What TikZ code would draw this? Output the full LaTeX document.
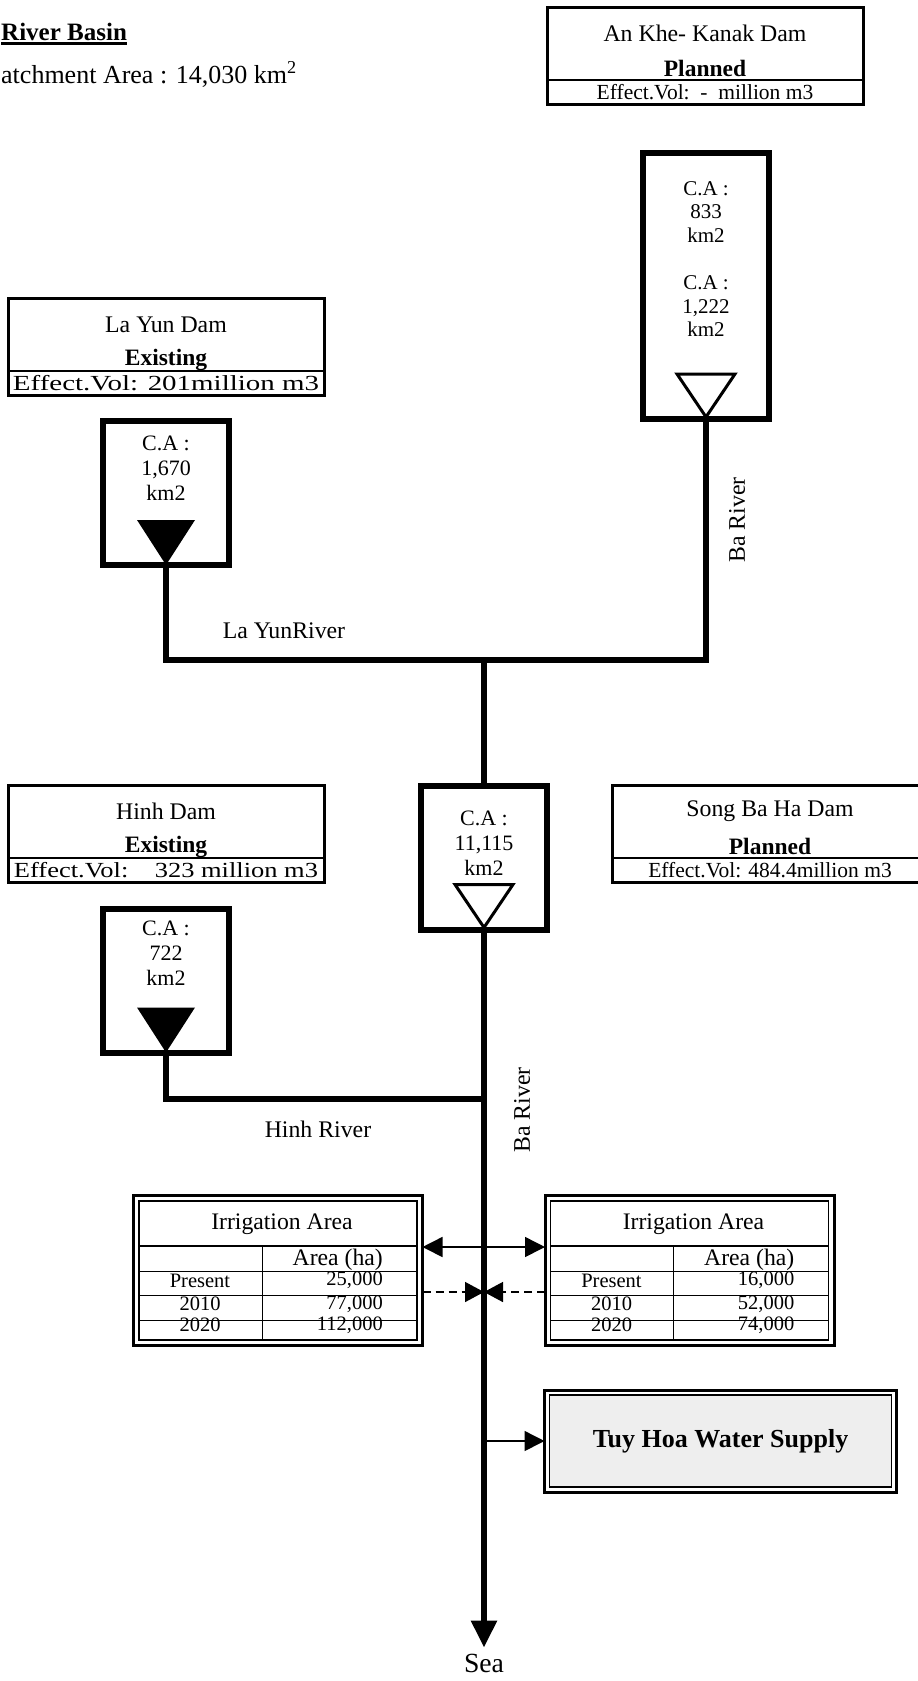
\documentclass[tikz,border=0pt]{standalone}
\usepackage{fontspec}
\setmainfont{Liberation Serif}
\usepackage{graphicx}
\usepackage{xcolor}
\usepackage{tikz}
\usetikzlibrary{arrows.meta,positioning,calc}

\definecolor{supplygray}{HTML}{EEEEEE}

\begin{document}
\begin{tikzpicture}[x=1pt, y=-1pt,
  dambox/.style={rectangle, draw, line width=3pt, minimum width=316pt, minimum height=97pt, outer sep=0pt, inner sep=0pt},
  damname/.style={font=\fontsize{23.8}{26}\selectfont, inner sep=0pt},
  damstat/.style={font=\fontsize{23.5}{26}\selectfont\bfseries, inner sep=0pt},
  damvol/.style={font=\fontsize{21.5}{24}\selectfont, inner sep=0pt},
  sepline/.style={line width=1.5pt},
  cabox/.style={rectangle, draw, line width=6pt, minimum width=126pt, minimum height=144pt, outer sep=0pt},
  catext/.style={font=\fontsize{22}{25}\selectfont, align=center, inner sep=0pt},
  river/.style={line width=6pt},
  rivlabel/.style={font=\fontsize{23.8}{26}\selectfont, inner sep=0pt},
  irrbox/.style={rectangle, draw, line width=3pt, minimum width=289pt, minimum height=150pt, outer sep=0pt},
  irrhead/.style={font=\fontsize{23.7}{26}\selectfont, inner sep=0pt},
  irrtext/.style={font=\fontsize{20.5}{22}\selectfont, inner sep=0pt},
  supply/.style={rectangle, draw, line width=1.5pt, fill=supplygray, minimum width=342pt, minimum height=92pt, outer sep=0pt, font=\fontsize{26}{30}\selectfont\bfseries},
  flow/.style={line width=1.5pt, -{Triangle[length=20pt,width=20pt]}},
  both/.style={line width=1.5pt, {Triangle[length=20pt,width=20pt]}-{Triangle[length=20pt,width=20pt]}},
  dashflow/.style={line width=1.5pt, dash pattern=on 8pt off 5pt, -{Triangle[length=19pt,width=20pt]}}
]
\useasboundingbox (0,0) rectangle (918,1681);

% Basin title
\node[font=\fontsize{25}{30}\selectfont\bfseries, anchor=base west, inner sep=0pt] (basin) at (1,40) {River Basin};
\draw[line width=2.5pt] ([yshift=-3.5pt]basin.base west) -- ([yshift=-3.5pt]basin.base east);
\node[font=\fontsize{26}{30}\selectfont, anchor=base west, inner sep=0pt] (catch) at (1,83) {atchment Area : 14,030 km\textsuperscript{2}};

% Dams
\node[dambox] (akd) at (705,55.5) {};
\node[damname, yshift=22pt] (akdn) at (akd) {An Khe- Kanak Dam};
\node[damstat, yshift=-13pt] (akds) at (akd) {Planned};
\draw[sepline] ([yshift=-24.5pt]akd.west) -- ([yshift=-24.5pt]akd.east);
\node[damvol, yshift=-37pt] (akdv) at (akd) {Effect.Vol:\ \ -\ \ million m3};

\node[dambox] (lyd) at (166,346.5) {};
\node[damname, yshift=22pt] (lydn) at (lyd) {La Yun Dam};
\node[damstat, yshift=-13pt] (lyds) at (lyd) {Existing};
\draw[sepline] ([yshift=-24.5pt]lyd.west) -- ([yshift=-24.5pt]lyd.east);
\node[damvol, yshift=-37pt] (lydv) at (lyd) {\resizebox{306pt}{\height}{Effect.Vol: 201million m3}};

\node[dambox] (hid) at (166,833.5) {};
\node[damname, yshift=22pt] (hidn) at (hid) {Hinh Dam};
\node[damstat, yshift=-13pt] (hids) at (hid) {Existing};
\draw[sepline] ([yshift=-24.5pt]hid.west) -- ([yshift=-24.5pt]hid.east);
\node[damvol, yshift=-37pt] (hidv) at (hid) {\resizebox{304pt}{\height}{Effect.Vol:\ \ \ \ 323 million m3}};

\node[dambox] (sbd) at (770,833.5) {};
\node[damname, yshift=22pt] (sbdn) at (sbd) {Song Ba Ha Dam};
\node[damstat, yshift=-13pt] (sbds) at (sbd) {Planned};
\draw[sepline] ([yshift=-24.5pt]sbd.west) -- ([yshift=-24.5pt]sbd.east);
\node[damvol, yshift=-37pt] (sbdv) at (sbd) {Effect.Vol: 484.4million m3};

% Catchment boxes
\node[cabox, minimum height=266pt] (akca) at (706,286) {};
\node[cabox] (lyca) at (166,493) {};
\node[cabox] (midca) at (484,857.5) {};
\node[cabox] (hica) at (166,980.5) {};

\node[catext, font=\fontsize{21}{23.6}\selectfont] (akcat) at (706,259) {C.A :\\833\\km2\\[23.6pt]C.A :\\1,222\\km2};
\node[catext, yshift=25pt] (lycat) at (lyca) {C.A :\\1,670\\km2};
\node[catext, yshift=14pt] (midcat) at (midca) {C.A :\\11,115\\km2};
\node[catext, yshift=27.5pt] (hicat) at (hica) {C.A :\\722\\km2};

% Rivers
\coordinate (j1) at (484,660);
\coordinate (j2) at (484,1099);
\node[font=\fontsize{27.7}{30}\selectfont, inner sep=0pt] (sea) at (484,1663) {Sea};

\draw[river] (lyca.south) |- (j1) -| (akca.south);
\draw[river] (j1) -- (midca.north);
\draw[river] (hica.south) |- (j2);
\draw[river, -{Triangle[length=27pt,width=25pt]}] (midca.south) -- ([yshift=6pt]sea.north);

% Dam symbols
\foreach \c in {lyca, hica}
  \fill ($(\c.south)+(-29,-45)$) -- ++(58,0) -- (\c.south) -- cycle;
\foreach \c in {akca, midca}
  \draw[line width=3pt, fill=white] ($(\c.south)+(-29,-45)$) -- ++(58,0) -- ($(\c.south)+(0,-2)$) -- cycle;

\node[rivlabel] (lyrl) at (284,631) {La YunRiver};
\node[rivlabel] (hirl) at (318,1129) {Hinh River};
\node[rivlabel, rotate=90] (barl1) at (737,520) {Ba River};
\node[rivlabel, rotate=90] (barl2) at (522,1110) {Ba River};

% Irrigation tables
\foreach \t/\cx/\va/\vb/\vc in {irl/278/{25,000}/{77,000}/{112,000}, irr/689.5/{16,000}/{52,000}/{74,000}} {
  \node[irrbox] (\t) at (\cx,1270.5) {};
  \draw[line width=1.5pt] ([shift={(5.5,5.5)}]\t.north west) rectangle ([shift={(-5.5,-5.5)}]\t.south east);
  \draw[line width=2pt] ([shift={(5.5,-24.5)}]\t.west) -- ([shift={(-5.5,-24.5)}]\t.east);
  \foreach \r in {0.5,24.5,49.5}
    \draw[line width=1pt] ([shift={(5.5,\r)}]\t.west) -- ([shift={(-5.5,\r)}]\t.east);
  \draw[line width=1pt] ([shift={(-16,-24.5)}]\t.center) -- ([shift={(-16,69.5)}]\t.center);
  \node[irrhead] (\t-head) at ([shift={(4,-46)}]\t.center) {Irrigation Area};
  \node[irrhead, anchor=east] (\t-unit) at ([shift={(105,-10.5)}]\t.center) {Area (ha)};
  \node[irrtext] (\t-l1) at ([shift={(-78,10)}]\t.center) {Present};
  \node[irrtext] (\t-l2) at ([shift={(-78,33.5)}]\t.center) {2010};
  \node[irrtext] (\t-l3) at ([shift={(-78,54.5)}]\t.center) {2020};
  \node[irrtext, anchor=east] (\t-v1) at ([shift={(105,10)}]\t.center) {\va};
  \node[irrtext, anchor=east] (\t-v2) at ([shift={(105,33.5)}]\t.center) {\vb};
  \node[irrtext, anchor=east] (\t-v3) at ([shift={(105,54.5)}]\t.center) {\vc};
}

% Water supply
\node[supply] (tuy) at (720.5,1441) {Tuy Hoa Water Supply};
\draw[line width=3pt] ([shift={(-5,-5)}]tuy.north west) rectangle ([shift={(5,5)}]tuy.south east);

% Withdrawals
\coordinate (dl) at ([yshift=-21.5pt]irl.east);
\coordinate (dr) at ([yshift=-21.5pt]irr.west);
\draw[both] ([yshift=23.5pt]irl.east) -- ([yshift=23.5pt]irr.west);
\draw[dashflow] (dl) -- (dl -| midca.south);
\draw[dashflow] (dr) -- (dr -| midca.south);
\draw[flow] (midca.south |- tuy.west) -- ([xshift=-5pt]tuy.west);

\end{tikzpicture}
\end{document}
